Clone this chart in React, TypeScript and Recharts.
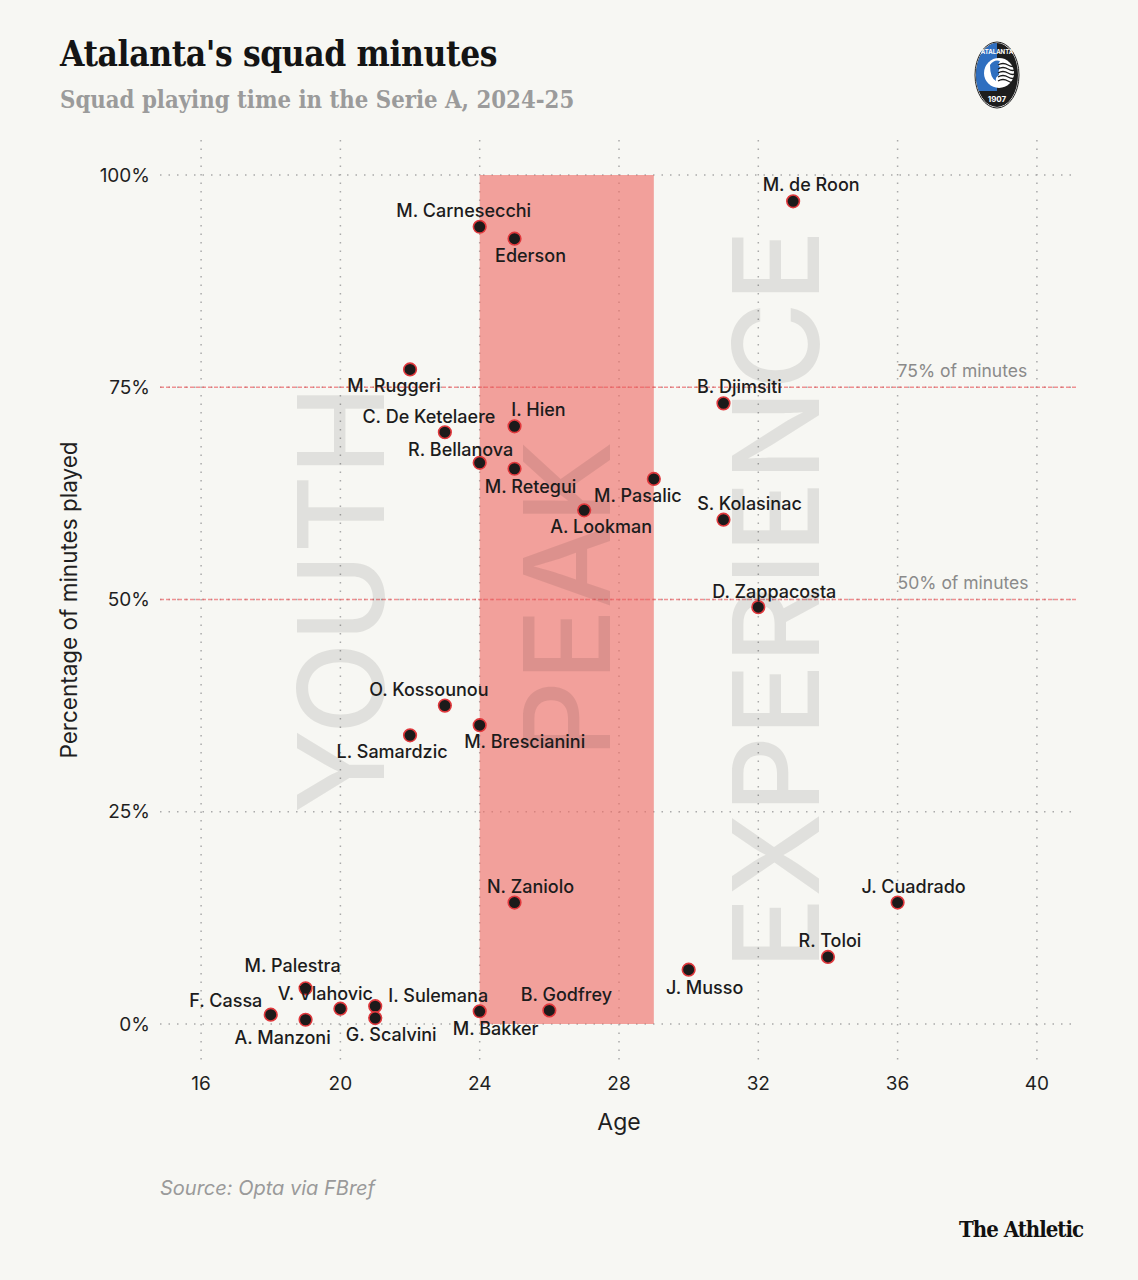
import React from "react";
import {
  ScatterChart,
  Scatter,
  XAxis,
  YAxis,
  CartesianGrid,
  ReferenceArea,
  ReferenceLine,
} from "recharts";

// Atalanta squad, Serie A 2024-25: age vs share of league minutes played
const PLAYERS = [
  "M. de Roon", "M. Carnesecchi", "Ederson", "M. Ruggeri", "B. Djimsiti",
  "C. De Ketelaere", "I. Hien", "R. Bellanova", "M. Retegui", "M. Pasalic",
  "A. Lookman", "S. Kolasinac", "D. Zappacosta", "O. Kossounou", "M. Brescianini",
  "L. Samardzic", "N. Zaniolo", "J. Cuadrado", "R. Toloi", "J. Musso",
  "M. Palestra", "V. Vlahovic", "I. Sulemana", "G. Scalvini", "F. Cassa",
  "A. Manzoni", "M. Bakker", "B. Godfrey",
];
const AGES = [
  33, 24, 25, 22, 31,
  23, 25, 24, 25, 29,
  27, 31, 32, 23, 24,
  22, 25, 36, 34, 30,
  19, 20, 21, 21, 18,
  19, 24, 26,
];
const MINUTES_PCT = [
  96.9, 93.9, 92.5, 77.1, 73.1,
  69.7, 70.4, 66.1, 65.4, 64.2,
  60.5, 59.4, 49.1, 37.5, 35.2,
  34.0, 14.3, 14.3, 7.9, 6.4,
  4.2, 1.8, 2.1, 0.7, 1.1,
  0.5, 1.5, 1.6,
];

const X_TICKS = [16, 20, 24, 28, 32, 36, 40];
const Y_TICKS = [0, 25, 50, 75, 100];
const PEAK_AGES = [24, 29];
const THRESHOLDS = [75, 50];
const ZONE_WORDS = ["YOUTH", "PEAK", "EXPERIENCE"];
const ZONE_AGES = [20, 26.5, 32.5];

// label nudges in px (dx, dy of text centre relative to the dot)
const LABEL_OFFSETS: Record<string, [number, number]> = {
  "M. de Roon": [18, -16],
  "M. Carnesecchi": [-16, -16],
  Ederson: [16, 17],
  "M. Ruggeri": [-16, 17],
  "B. Djimsiti": [16, -16],
  "C. De Ketelaere": [-16, -15],
  "I. Hien": [24, -16],
  "R. Bellanova": [-19, -13],
  "M. Retegui": [16, 18],
  "M. Pasalic": [-16, 17],
  "A. Lookman": [17, 17],
  "S. Kolasinac": [26, -16],
  "D. Zappacosta": [16, -15],
  "O. Kossounou": [-16, -16],
  "M. Brescianini": [45, 17],
  "L. Samardzic": [-18, 17],
  "N. Zaniolo": [16, -16],
  "J. Cuadrado": [16, -16],
  "R. Toloi": [2, -16],
  "J. Musso": [16, 18],
  "M. Palestra": [-13, -22],
  "V. Vlahovic": [-15, -15],
  "I. Sulemana": [63, -10],
  "G. Scalvini": [16, 17],
  "F. Cassa": [-45, -14],
  "A. Manzoni": [-23, 18],
  "M. Bakker": [16, 18],
  "B. Godfrey": [17, -15],
};

const squad = PLAYERS.map((name, i) => ({
  name,
  age: AGES[i],
  pct: MINUTES_PCT[i],
}));
const zoneData = ZONE_WORDS.map((word, i) => ({ word, age: ZONE_AGES[i], pct: 50 }));
const thresholdData = THRESHOLDS.map((t) => ({ age: 36, pct: t, text: `${t}% of minutes` }));

const BG = "#f7f7f3";
const SANS = "Inter, 'Noto Sans', sans-serif";
const SLAB = "'DejaVu Serif Condensed', 'DejaVu Serif', serif";

const ZoneWord = (props: any) => {
  const { cx, cy, payload } = props;
  return (
    <text
      x={cx}
      y={cy}
      dy="0.36em"
      transform={`rotate(-90, ${cx}, ${cy})`}
      textAnchor="middle"
      fontFamily={SANS}
      fontSize={120}
      fontWeight={500}
      fill="#000"
      fillOpacity={0.09}
    >
      {payload.word}
    </text>
  );
};

const ThresholdLabel = (props: any) => {
  const { cx, cy, payload } = props;
  return (
    <text x={cx} y={cy - 10} textAnchor="start" fontFamily={SANS} fontSize={17.5} fill="#8a8a8a">
      {payload.text}
    </text>
  );
};

const PlayerDot = (props: any) => {
  const { cx, cy } = props;
  return <circle cx={cx} cy={cy} r={6.3} fill="#1c1a1a" stroke="#e0383c" strokeWidth={1.6} />;
};

const PlayerLabel = (props: any) => {
  const { cx, cy, payload } = props;
  const [dx, dy] = LABEL_OFFSETS[payload.name] ?? [0, -16];
  return (
    <text
      x={cx + dx}
      y={cy + dy + 6}
      textAnchor="middle"
      fontFamily={SANS}
      fontSize={18}
      fontWeight={500}
      fill="#1c1c1c"
    >
      {payload.name}
    </text>
  );
};

const Crest = () => (
  <svg width={46} height={68} viewBox="0 0 46 68" style={{ position: "absolute", left: 974, top: 41 }}>
    <defs>
      <clipPath id="crestClip">
        <ellipse cx={23} cy={34} rx={21} ry={32} />
      </clipPath>
    </defs>
    <ellipse cx={23} cy={34} rx={22} ry={33} fill="#fff" stroke="#222" strokeWidth={1} />
    <g clipPath="url(#crestClip)">
      <rect x={0} y={0} width={46} height={68} fill="#1d1d1d" />
      <rect x={0} y={0} width={23} height={50} fill="#2f6fc0" />
      <circle cx={25} cy={32} r={15} fill="#fff" />
      <path d="M16 24 q4 -6 10 -4 q-3 4 0 6 q-2 4 -1 8 q-4 2 -3 6 q-6 -3 -6 -16z" fill="#2f6fc0" />
      {[24, 28, 32, 36, 40].map((y) => (
        <path key={y} d={`M24 ${y} q5 -3 10 0 t8 0`} stroke="#1d1d1d" strokeWidth={1.3} fill="none" />
      ))}
    </g>
    <text x={23} y={13} textAnchor="middle" fontFamily={SANS} fontSize={6} fontWeight={700} fill="#fff">
      ATALANTA
    </text>
    <text x={23} y={61} textAnchor="middle" fontFamily={SANS} fontSize={8} fontWeight={700} fill="#fff">
      1907
    </text>
  </svg>
);

export default function App() {
  return (
    <div
      style={{
        position: "absolute",
        left: 0,
        top: 0,
        width: 1138,
        height: 1280,
        background: BG,
        overflow: "hidden",
      }}
    >
      <div
        style={{
          position: "absolute",
          left: 60,
          top: 33,
          fontFamily: SLAB,
          fontWeight: 700,
          fontSize: 35,
          color: "#141414",
          letterSpacing: -0.4,
          whiteSpace: "nowrap",
        }}
      >
        Atalanta's squad minutes
      </div>
      <div
        style={{
          position: "absolute",
          left: 60,
          top: 86,
          fontFamily: SLAB,
          fontWeight: 700,
          fontSize: 23.7,
          color: "#9b9b9b",
          whiteSpace: "nowrap",
        }}
      >
        Squad playing time in the Serie A, 2024-25
      </div>
      <Crest />

      <div style={{ position: "absolute", left: 0, top: 0 }}>
        <ScatterChart width={1138} height={1280} margin={{ top: 140, right: 60, bottom: 0, left: 0 }}>
          <ReferenceArea
            x1={PEAK_AGES[0]}
            x2={PEAK_AGES[1]}
            y1={0}
            y2={100}
            fill="#ef6a64"
            fillOpacity={0.62}
            stroke="none"
          />
          <CartesianGrid
            stroke="#aaaaaa"
            strokeWidth={1.5}
            strokeDasharray="1.5 7"
            horizontalValues={Y_TICKS}
            verticalValues={X_TICKS}
          />
          <XAxis
            type="number"
            dataKey="age"
            domain={[14.82, 41.18]}
            allowDataOverflow
            ticks={X_TICKS}
            height={220}
            axisLine={false}
            tickLine={false}
            tickSize={0}
            tickMargin={17}
            tick={{ fill: "#1f1f1f", fontSize: 19, fontFamily: SANS }}
          />
          <YAxis
            type="number"
            dataKey="pct"
            domain={[-4.24, 104.12]}
            allowDataOverflow
            ticks={Y_TICKS}
            width={160}
            axisLine={false}
            tickLine={false}
            tickSize={0}
            tickMargin={10}
            tickFormatter={(v: number) => `${v}%`}
            tick={{ fill: "#1f1f1f", fontSize: 19, fontFamily: SANS }}
          />
          {THRESHOLDS.map((t) => (
            <ReferenceLine
              key={t}
              y={t}
              stroke="#ec5a5e"
              strokeOpacity={0.65}
              strokeWidth={1.3}
              strokeDasharray="4 2"
            />
          ))}
          <Scatter data={zoneData} shape={ZoneWord} isAnimationActive={false} />
          <Scatter data={thresholdData} shape={ThresholdLabel} isAnimationActive={false} />
          <Scatter data={squad} shape={PlayerDot} isAnimationActive={false} />
          <Scatter data={squad} shape={PlayerLabel} isAnimationActive={false} />
        </ScatterChart>
      </div>

      <div
        style={{
          position: "absolute",
          left: 619,
          top: 1108,
          transform: "translateX(-50%)",
          fontFamily: SANS,
          fontSize: 23,
          color: "#1f1f1f",
        }}
      >
        Age
      </div>
      <div
        style={{
          position: "absolute",
          left: 68,
          top: 600,
          transform: "translate(-50%, -50%) rotate(-90deg)",
          fontFamily: SANS,
          fontSize: 22.5,
          color: "#1f1f1f",
          whiteSpace: "nowrap",
        }}
      >
        Percentage of minutes played
      </div>
      <div
        style={{
          position: "absolute",
          left: 160,
          top: 1176,
          fontFamily: SANS,
          fontStyle: "italic",
          fontSize: 20,
          color: "#9a9a9a",
        }}
      >
        Source: Opta via FBref
      </div>
      <div
        style={{
          position: "absolute",
          right: 55,
          top: 1216,
          fontFamily: SLAB,
          fontWeight: 700,
          fontSize: 22,
          letterSpacing: -1,
          color: "#111",
        }}
      >
        The Athletic
      </div>
    </div>
  );
}
